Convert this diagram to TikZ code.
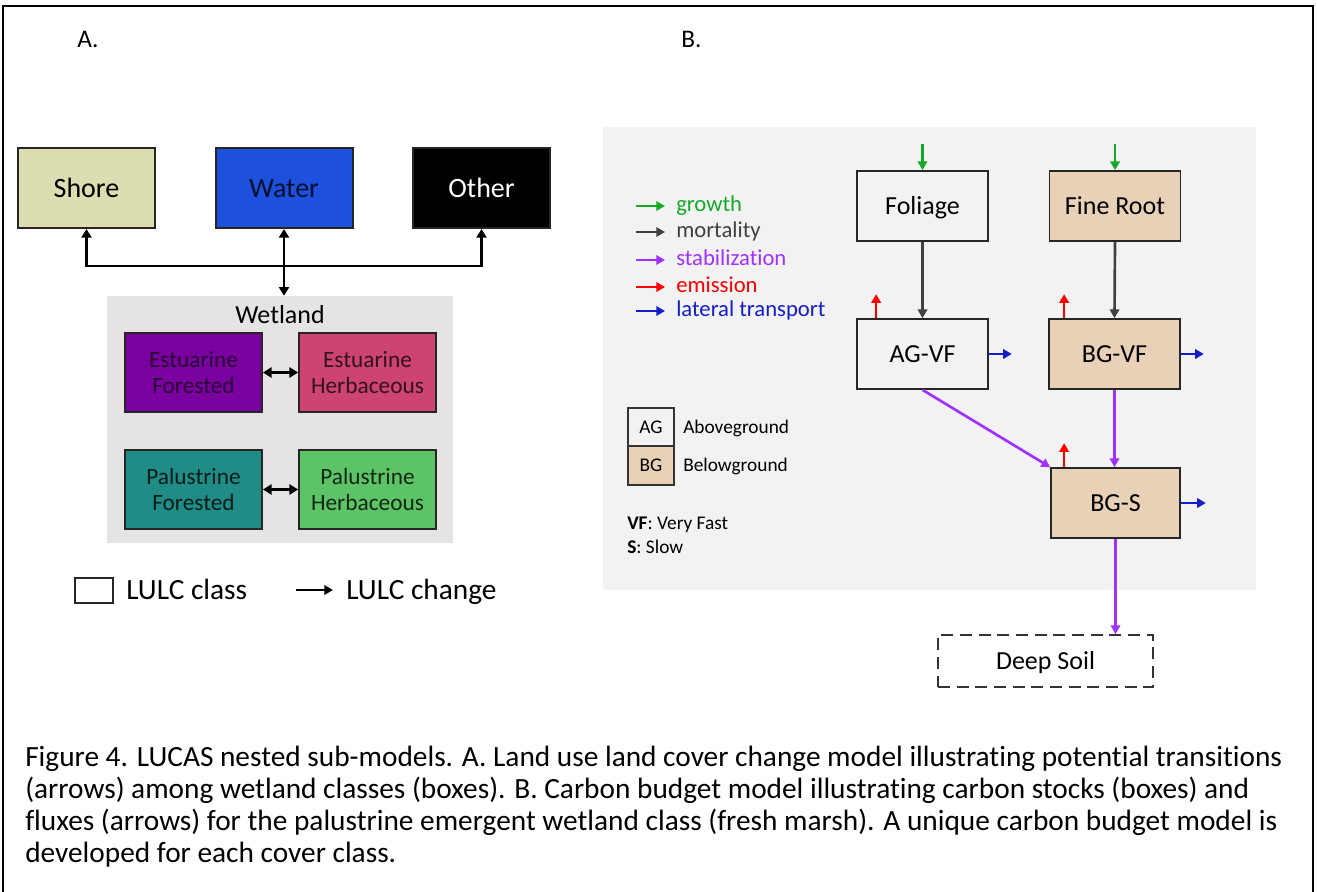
\documentclass[tikz,border=0pt]{standalone}
\usepackage{fontspec}
\setmainfont[Ligatures={NoCommon}]{Carlito}
\usetikzlibrary{arrows.meta}
\def\pxu{0.75pt}
\definecolor{shorec}{RGB}{220,221,176}
\definecolor{waterc}{RGB}{30,80,222}
\definecolor{estfc}{RGB}{122,0,160}
\definecolor{esthc}{RGB}{205,67,115}
\definecolor{palfc}{RGB}{32,140,134}
\definecolor{palhc}{RGB}{92,196,102}
\definecolor{wetbg}{RGB}{229,227,227}
\definecolor{rbg}{RGB}{242,242,242}
\definecolor{tanc}{RGB}{232,209,183}
\definecolor{growc}{RGB}{20,170,40}
\definecolor{mortc}{RGB}{64,64,64}
\definecolor{stabc}{RGB}{160,50,255}
\definecolor{emisc}{RGB}{255,0,0}
\definecolor{latc}{RGB}{20,30,200}
\begin{document}
\begin{tikzpicture}[x=0.75pt,y=-0.75pt,
  lbox/.style={draw=black!85, line width=1.5pt, inner sep=0pt, minimum width=137*\pxu, minimum height=80*\pxu, align=center, text height=14.5pt, text depth=1pt, font=\fontsize{21}{25}\selectfont},
  wbox/.style={draw=black!85, line width=1.3pt, inner sep=0pt, minimum width=137*\pxu, minimum height=79*\pxu, align=center, font=\fontsize{17.5}{20}\selectfont},
  rbox/.style={draw=black!85, line width=1.3pt, inner sep=0pt, minimum width=131*\pxu, minimum height=70*\pxu, align=center, text height=13.6pt, text depth=1pt, font=\fontsize{19.5}{23}\selectfont},
  larr/.style={line width=2.2pt, black, {Triangle[length=6.5pt,width=7.5pt]}-{Triangle[length=6.5pt,width=7.5pt]}},
  rarr/.style={line width=2pt, -{Triangle[length=6.5pt,width=7pt]}},
  legtxt/.style={anchor=base west, inner sep=0pt, font=\fontsize{17}{20}\selectfont},
  captxt/.style={anchor=base west, inner sep=0pt, font=\fontsize{22}{24}\selectfont}
]
\useasboundingbox (0,0) rectangle (1317,892);
% frame
\draw[line width=1.5pt] (3,892) -- (3,6) -- (1313,6) -- (1313,892);
\node[anchor=base west, inner sep=0pt, font=\fontsize{19}{23}\selectfont] (labA) at (77,48) {A.};
\node[anchor=base west, inner sep=0pt, font=\fontsize{19}{23}\selectfont] (labB) at (681,48) {B.};

% ---------- Panel A ----------
\node[lbox, fill=shorec] (shore) at (86.5,188) {Shore};
\node[lbox, fill=waterc, text=black!80!waterc] (water) at (284,188) {Water};
\node[lbox, fill=black, text=white] (other) at (481.5,188) {Other};

\node[fill=wetbg, inner sep=0pt, minimum width=346*\pxu, minimum height=247*\pxu] (wetland) at (280,419.5) {};
\node[inner sep=0pt, font=\fontsize{19.5}{23}\selectfont] (wetlbl) at (280,315) {Wetland};

\node[wbox, fill=estfc, text=black!70!estfc] (estf) at (193.5,372.5) {Estuarine\\Forested};
\node[wbox, fill=esthc, text=black!75!esthc] (esth) at (367.5,372.5) {Estuarine\\Herbaceous};
\node[wbox, fill=palfc, text=black!80!palfc] (palf) at (193.5,489.5) {Palustrine\\Forested};
\node[wbox, fill=palhc, text=black!80!palhc] (palh) at (367.5,489.5) {Palustrine\\Herbaceous};

\draw[larr] (shore.south) -- ++(0,37) -| (other.south);
\draw[larr] (water.south) -- (water.south |- wetland.north);
\draw[larr] (estf.east) -- (esth.west);
\draw[larr] (palf.east) -- (palh.west);

% legend A
\node[draw=black!85, line width=1.5pt, inner sep=0pt, minimum width=38*\pxu, minimum height=25*\pxu] (legbox) at (94,590.5) {};
\node[anchor=base west, inner sep=0pt, font=\fontsize{22}{26}\selectfont] (legclass) at (126,599) {LULC class};
\coordinate (lega1) at (296,590);
\coordinate (lega2) at (333,590);
\draw[line width=2pt, -{Triangle[length=6.5pt,width=7pt]}] (lega1) -- (lega2);
\node[anchor=base west, inner sep=0pt, font=\fontsize{22}{26}\selectfont] (legchange) at (346,599) {LULC change};

% ---------- Panel B ----------
\node[fill=rbg, inner sep=0pt, minimum width=653*\pxu, minimum height=463*\pxu] (rpanel) at (929.5,358.5) {};

% flux legend
\foreach \yy/\cc/\tt [count=\i] in {206/growc/growth, 232/mortc/mortality, 260/stabc/stabilization, 287/emisc/emission, 311/latc/lateral transport}{
  \coordinate (fa\i) at (636,\yy);
  \coordinate (fb\i) at (665,\yy);
  \draw[rarr, \cc] (fa\i) -- (fb\i);
  \node[legtxt, text=\cc] (ft\i) at (676,\yy+5) {\tt};
}

% AG/BG legend
\node[draw=black!80, line width=1pt, fill=rbg, inner sep=0pt, minimum width=46*\pxu, minimum height=38*\pxu, text height=9.5pt, text depth=0.5pt, font=\fontsize{14.5}{17}\selectfont] (agl) at (651,427) {AG};
\node[draw=black!80, line width=1pt, fill=tanc, inner sep=0pt, minimum width=46*\pxu, minimum height=39*\pxu, text height=9.5pt, text depth=0.5pt, font=\fontsize{14.5}{17}\selectfont] (bgl) at (651,465.5) {BG};
\node[anchor=base west, inner sep=0pt, font=\fontsize{14.5}{17}\selectfont] (agt) at (683,433) {Aboveground};
\node[anchor=base west, inner sep=0pt, font=\fontsize{14.5}{17}\selectfont] (bgt) at (683,471) {Belowground};
\node[anchor=base west, inner sep=0pt, font=\fontsize{14.5}{17}\selectfont] (vft) at (627,529) {\textbf{VF}: Very Fast};
\node[anchor=base west, inner sep=0pt, font=\fontsize{14.5}{17}\selectfont] (st) at (627,553) {\textbf{S}: Slow};

% stocks
\node[rbox, fill=rbg] (fol) at (922.5,206) {Foliage};
\node[rbox, fill=tanc] (fine) at (1115,206) {Fine Root};
\node[rbox, fill=rbg] (agvf) at (922.5,354) {AG-VF};
\node[rbox, fill=tanc] (bgvf) at (1114.5,354) {BG-VF};
\node[rbox, fill=tanc, minimum width=129*\pxu] (bgs) at (1115.5,503) {BG-S};
\node[draw=black!80, line width=1.3pt, dash pattern=on 9pt off 5pt, inner sep=0pt, minimum width=215*\pxu, minimum height=52*\pxu, text height=13.6pt, text depth=1pt, font=\fontsize{19.5}{23}\selectfont] (deep) at (1045.5,661) {Deep Soil};

% growth
\draw[rarr, growc] ([yshift=26*\pxu]fol.north) -- (fol.north);
\draw[rarr, growc] ([yshift=26*\pxu]fine.north) -- (fine.north);
% mortality
\draw[rarr, mortc] (fol.south) -- (agvf.north);
\draw[rarr, mortc] (fine.south) -- (bgvf.north);
% emission
\draw[rarr, emisc] ([xshift=20*\pxu]agvf.north west) -- ++(0,-24);
\draw[rarr, emisc] ([xshift=16*\pxu]bgvf.north west) -- ++(0,-24);
\draw[rarr, emisc] ([xshift=14*\pxu]bgs.north west) -- ++(0,-24);
% lateral transport
\draw[rarr, latc] (agvf.east) -- ++(23,0);
\draw[rarr, latc] (bgvf.east) -- ++(23,0);
\draw[rarr, latc] (bgs.east) -- ++(25,0);
% stabilization
\draw[rarr, stabc] (agvf.south) -- (bgs.north west);
\draw[rarr, stabc] (bgvf.south) -- (bgvf.south |- bgs.north);
\draw[rarr, stabc] (bgs.south) -- (bgs.south |- deep.north);

% caption
\node[captxt] (cap1) at (25,766) {Figure 4. LUCAS nested sub-models. A. Land use land cover change model illustrating potential transitions};
\node[captxt] (cap2) at (25,798) {(arrows) among wetland classes (boxes). B. Carbon budget model illustrating carbon stocks (boxes) and};
\node[captxt] (cap3) at (25,830) {fluxes (arrows) for the palustrine emergent wetland class (fresh marsh). A unique carbon budget model is};
\node[captxt] (cap4) at (25,862) {developed for each cover class.};
\end{tikzpicture}
\end{document}
